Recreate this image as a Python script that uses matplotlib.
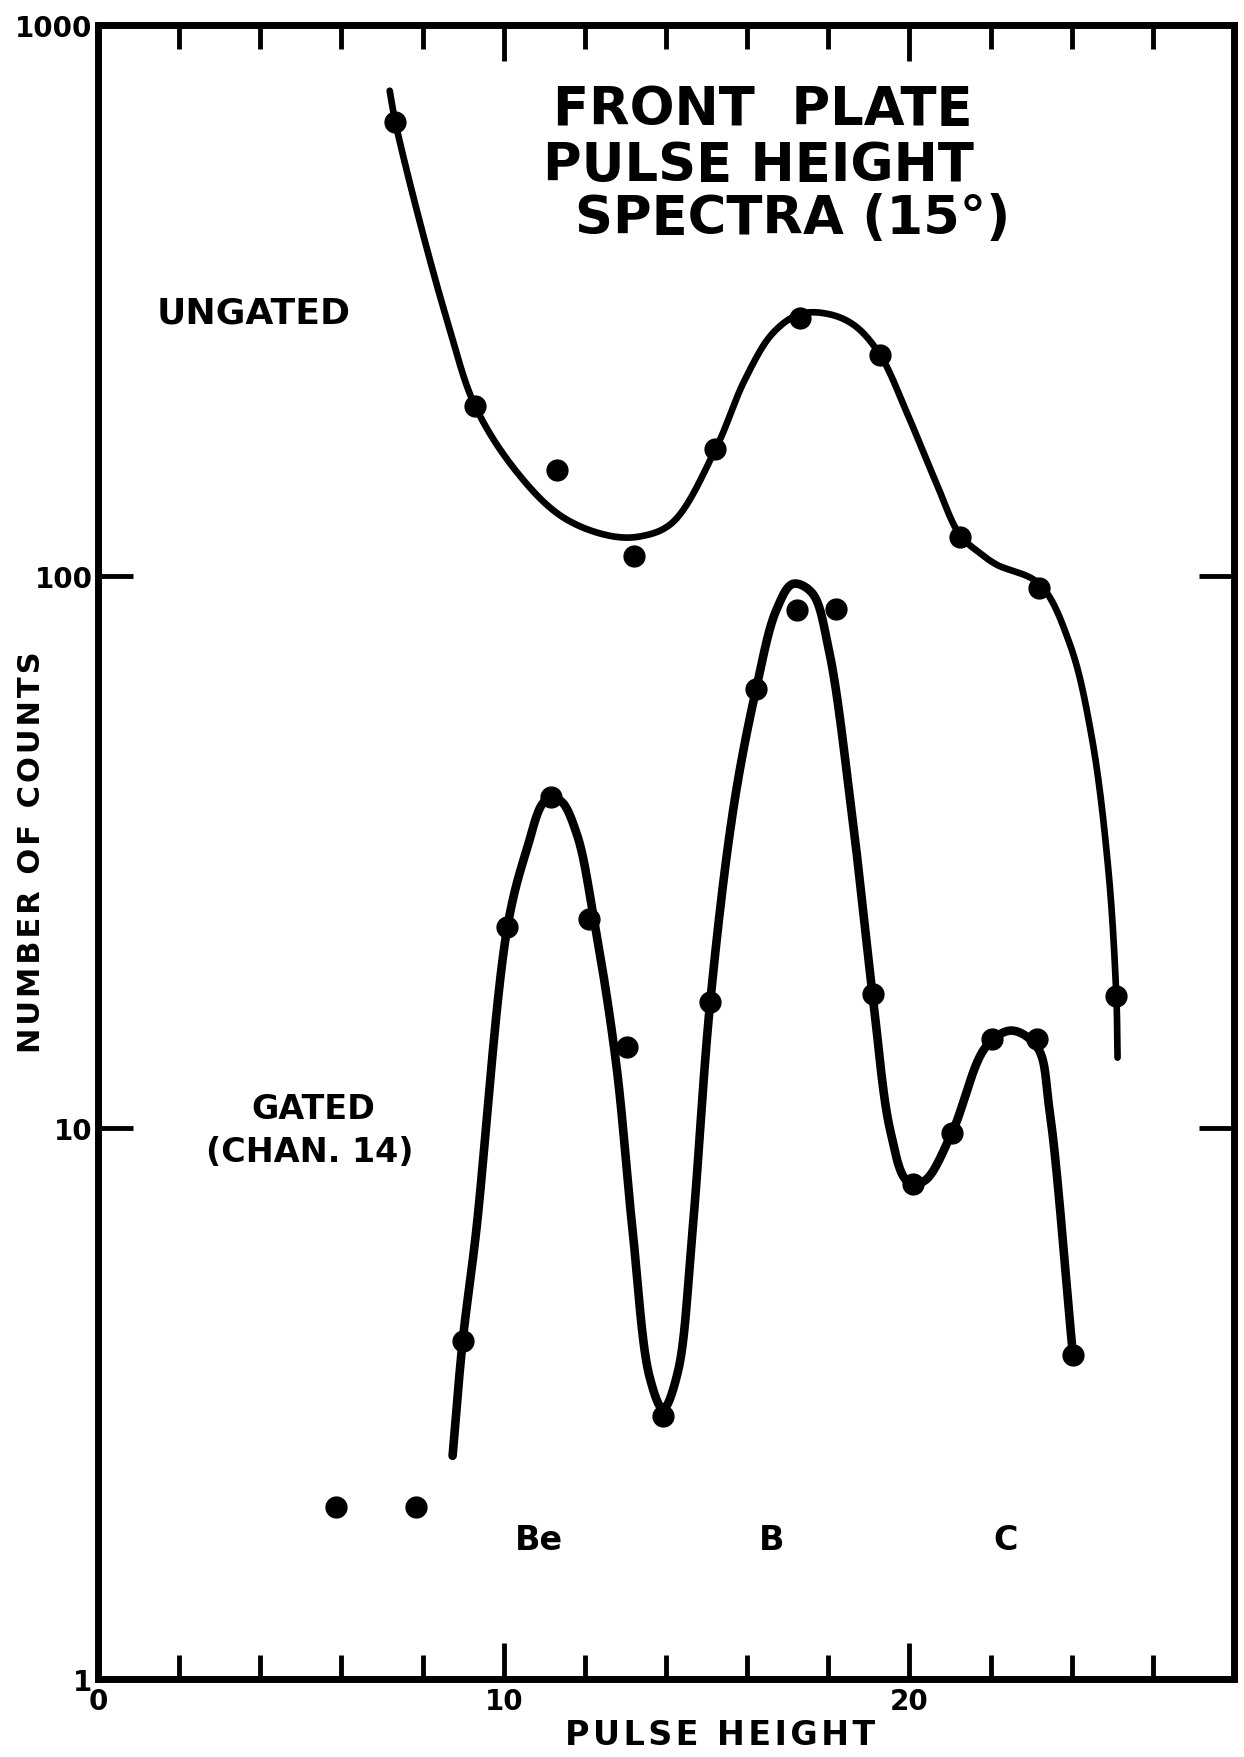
import numpy as np
import matplotlib
matplotlib.use("Agg")
import matplotlib.pyplot as plt
from matplotlib.ticker import FixedLocator, NullFormatter

# Measured spectra
ungated_x = [7.33, 9.29, 11.31, 13.21, 15.22, 17.30, 19.28, 21.24, 23.20, 25.10]
ungated_y = [666, 204, 156, 109, 170, 294, 252, 118, 95.4, 17.3]

gated_x = [8.99, 10.09, 11.17, 12.11, 13.04, 13.93, 15.09, 16.22, 17.24, 18.18,
           19.09, 20.08, 21.05, 22.04, 23.15, 24.03]
gated_y = [4.11, 23.1, 39.8, 23.9, 14.0, 3.0, 16.9, 62.4, 86.9, 87.3,
           17.5, 7.9, 9.8, 14.5, 14.5, 3.87]

extra_x = [5.87, 7.85]
extra_y = [2.05, 2.05]

# Hand-fitted guide curves (knots)
ungated_curve_x = [7.19, 7.33, 7.94, 8.63, 9.29, 10.28, 11.39, 12.49, 13.32, 14.15,
                   15.22, 15.94, 16.63, 17.30, 18.01, 18.65, 19.28, 19.95,
                   20.64, 21.24, 21.75, 22.15, 23.20, 23.95, 24.50, 24.91, 25.10, 25.13]
ungated_curve_y = [760, 666, 437, 287, 204, 156, 129, 119, 118, 125,
                   170, 227, 276, 299, 299, 285, 252, 197,
                   149, 119, 110, 105, 96.9, 75.5, 50.8, 29, 17.3, 13.4]

gated_curve_x = [8.74, 8.99, 9.32, 10.09, 10.56, 11.03, 11.39, 11.80, 12.22,
                 12.77, 13.18, 13.60, 13.93, 14.29, 14.65, 15.09, 15.67, 16.22,
                 16.72, 17.13, 17.60, 18.01, 18.56, 19.09, 19.53, 19.95, 20.36,
                 21.05, 21.88, 22.51, 23.15, 23.45, 24.03]
gated_curve_y = [2.54, 4.11, 6.47, 23.1, 31.8, 39.2, 39.2, 34.1, 24.0,
                 13.1, 6.47, 3.52, 3.09, 3.6, 6.47, 16.9, 38.3, 62.4,
                 86.9, 96.9, 93.3, 73.8, 38.3, 17.5, 9.86, 8.0, 8.0,
                 9.8, 14.0, 15.0, 14.0, 10.8, 3.87]

x_major = [0, 10, 20]
x_minor = list(range(2, 28, 2))
y_ticks = [1, 10, 100, 1000]
y_labels = ["1", "10", "100", "1000"]

FONT = "DejaVu Sans"

# screen-like scaling used for curve smoothing (pixels per x unit / per decade)
SX, SY = 40.6, 551.0


def centripetal_spline(xs, ys, n=30):
    """Centripetal Catmull-Rom path through knots, built in (x, log10 y) space."""
    P = np.column_stack([np.asarray(xs) * SX, np.log10(ys) * SY])
    P = np.vstack([2 * P[0] - P[1], P, 2 * P[-1] - P[-2]])
    parts = []
    for i in range(1, len(P) - 2):
        p0, p1, p2, p3 = P[i - 1], P[i], P[i + 1], P[i + 2]
        t0 = 0.0
        t1 = t0 + np.linalg.norm(p1 - p0) ** 0.5
        t2 = t1 + np.linalg.norm(p2 - p1) ** 0.5
        t3 = t2 + np.linalg.norm(p3 - p2) ** 0.5
        t = np.linspace(t1, t2, n, endpoint=False)[:, None]
        a1 = (t1 - t) / (t1 - t0) * p0 + (t - t0) / (t1 - t0) * p1
        a2 = (t2 - t) / (t2 - t1) * p1 + (t - t1) / (t2 - t1) * p2
        a3 = (t3 - t) / (t3 - t2) * p2 + (t - t2) / (t3 - t2) * p3
        b1 = (t2 - t) / (t2 - t0) * a1 + (t - t0) / (t2 - t0) * a2
        b2 = (t3 - t) / (t3 - t1) * a2 + (t - t1) / (t3 - t1) * a3
        c = (t2 - t) / (t2 - t1) * b1 + (t - t1) / (t2 - t1) * b2
        parts.append(c)
    parts.append(P[-2][None, :])
    arr = np.vstack(parts)
    return arr[:, 0] / SX, 10 ** (arr[:, 1] / SY)


fig = plt.figure(figsize=(12.44, 17.58), dpi=100)
ax = fig.add_axes([98 / 1244, 78 / 1758, 1136 / 1244, 1654 / 1758])
ax.set_yscale("log")
ax.set_xlim(0, 28)
ax.set_ylim(1, 1000)

for s in ax.spines.values():
    s.set_linewidth(5)
    s.set_color("black")

# curves
cx, cy = centripetal_spline(ungated_curve_x, ungated_curve_y)
ax.plot(cx, cy, color="black", lw=4.8, solid_capstyle="round", solid_joinstyle="round")
cx, cy = centripetal_spline(gated_curve_x, gated_curve_y)
ax.plot(cx, cy, color="black", lw=6.2, solid_capstyle="round", solid_joinstyle="round")

# data points
ax.plot(ungated_x, ungated_y, "o", color="black", ms=15)
ax.plot(gated_x, gated_y, "o", color="black", ms=15)
ax.plot(extra_x, extra_y, "o", color="black", ms=15)

# x ticks
ax.xaxis.set_major_locator(FixedLocator(x_major))
ax.xaxis.set_minor_locator(FixedLocator(x_minor))
ax.set_xticklabels([str(v) for v in x_major])
ax.tick_params(axis="x", which="major", direction="in", length=26, width=3.5,
               top=True, bottom=True, labelsize=20, pad=6)
ax.tick_params(axis="x", which="minor", direction="in", length=17, width=3.5,
               top=True, bottom=True)

# y ticks
ax.yaxis.set_major_locator(FixedLocator(y_ticks))
ax.yaxis.set_minor_locator(FixedLocator([]))
ax.yaxis.set_minor_formatter(NullFormatter())
ax.set_yticklabels(y_labels)
ax.tick_params(axis="y", which="major", direction="in", length=25, width=3.5,
               left=True, right=True, labelsize=20, pad=4)

for lab in ax.get_xticklabels() + ax.get_yticklabels():
    lab.set_fontweight("bold")
    lab.set_family(FONT)

# axis titles
spaced = lambda s: "\u200a".join(s)
fig.text(0.025, 0.515, spaced("NUMBER OF COUNTS"), rotation=90, ha="center",
         va="center", fontsize=22, fontweight="bold", family=FONT)
fig.text(0.579, 0.013, spaced("PULSE HEIGHT"), ha="center", va="center",
         fontsize=24, fontweight="bold", family=FONT)

# title block
title_kw = dict(ha="center", va="center", fontsize=38, fontweight="bold", family=FONT)
fig.text(763 / 1244, 0.9374, "FRONT  PLATE", **title_kw)
fig.text(758 / 1244, 0.9056, "PULSE HEIGHT", **title_kw)
fig.text(793 / 1244, 0.8754, "SPECTRA (15\u00b0)", **title_kw)

# curve annotations
fig.text(0.204, 0.8214, "UNGATED", ha="center", va="center",
         fontsize=26, fontweight="bold", family=FONT)
fig.text(0.252, 0.369, "GATED", ha="center", va="center",
         fontsize=24, fontweight="bold", family=FONT)
fig.text(0.249, 0.3447, "(CHAN. 14)", ha="center", va="center",
         fontsize=24, fontweight="bold", family=FONT)

for xf, lab in [(0.433, "Be"), (0.620, "B"), (0.808, "C")]:
    fig.text(xf, 0.1236, lab, ha="center", va="center",
             fontsize=24, fontweight="bold", family=FONT)

fig.savefig("out.png", dpi=100, facecolor="white")
